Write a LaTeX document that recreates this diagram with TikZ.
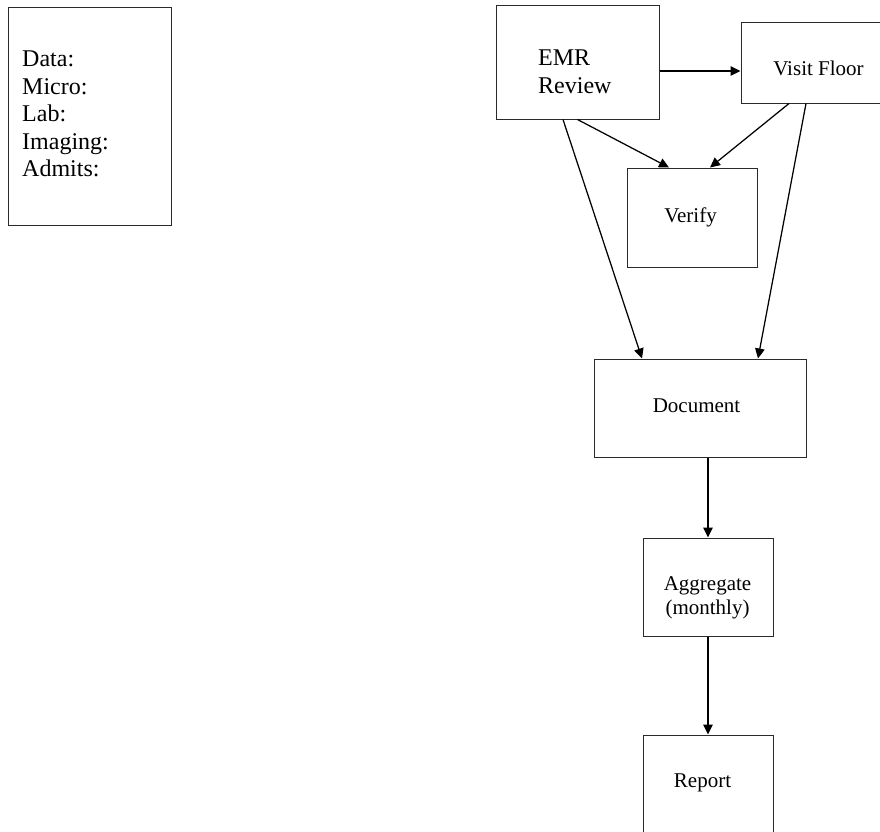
\documentclass[tikz,border=0pt]{standalone}
\usepackage{fontspec}
\setmainfont{Liberation Serif}
\usetikzlibrary{calc,arrows.meta}
\definecolor{boxline}{HTML}{2A2A2A}
\tikzset{
  box/.style={draw=boxline, line width=1pt, rectangle, inner sep=0pt},
  big/.style={font={\fontsize{24}{27.5}\selectfont}, inner sep=0pt},
  small/.style={font={\fontsize{21}{24}\selectfont}, inner sep=0pt},
  arr/.style={line width=1.25pt, -{Triangle[length=10pt,width=9.5pt]}}
}
\begin{document}
\begin{tikzpicture}[x=1pt,y=-1pt]
\useasboundingbox (0,0) rectangle (880,831);
\clip (0,0) rectangle (880,831);
% boxes
\node[box, minimum width=163pt, minimum height=218pt] (data) at (89.5,116) {};
\node[box, minimum width=163pt, minimum height=114pt] (emr) at (577.5,62) {};
\node[box, minimum width=154pt, minimum height=81pt] (visit) at (818,62.5) {};
\node[box, minimum width=130pt, minimum height=99pt] (verify) at (692,217.5) {};
\node[box, minimum width=212pt, minimum height=98pt] (doc) at (700,408) {};
\node[box, minimum width=130pt, minimum height=98pt] (agg) at (708,587) {};
\node[box, minimum width=130pt, minimum height=100pt] (report) at (708,785) {};
% texts
\node[big, align=left, anchor=north west] (datatext) at (22,51) {Data:\\Micro:\\Lab:\\Imaging:\\Admits:};
\node[big, align=left, anchor=north west] (emrtext) at (538,50) {EMR\\Review};
\node[small, anchor=base] (visittext) at (818.5,75) {Visit Floor};
\node[small, anchor=base] (verifytext) at (690.5,222) {Verify};
\node[small, anchor=base] (doctext) at (696.5,412) {Document};
\node[small, align=center, anchor=north] (aggtext) at (707.5,576.5) {Aggregate\\(monthly)};
\node[small, anchor=base] (reporttext) at (702.5,787) {Report};
% connectors
\draw[arr] ($(emr.east)+(0,9)$) -- ($(visit.west)+(0,8.5)$);
\draw[arr] (emr.south) -- ($(verify.north)+(-23,0)$);
\draw[arr] ($(visit.south)+(-29,0)$) -- ($(verify.north)+(18,0)$);
\draw[arr] ($(emr.south)+(-14.5,0)$) -- ($(doc.north)+(-58,0)$);
\draw[arr] ($(visit.south)+(-12,0)$) -- ($(doc.north)+(58,0)$);
\draw[arr] ($(doc.south)+(8,0)$) -- (agg.north);
\draw[arr] (agg.south) -- (report.north);
\end{tikzpicture}
\end{document}
